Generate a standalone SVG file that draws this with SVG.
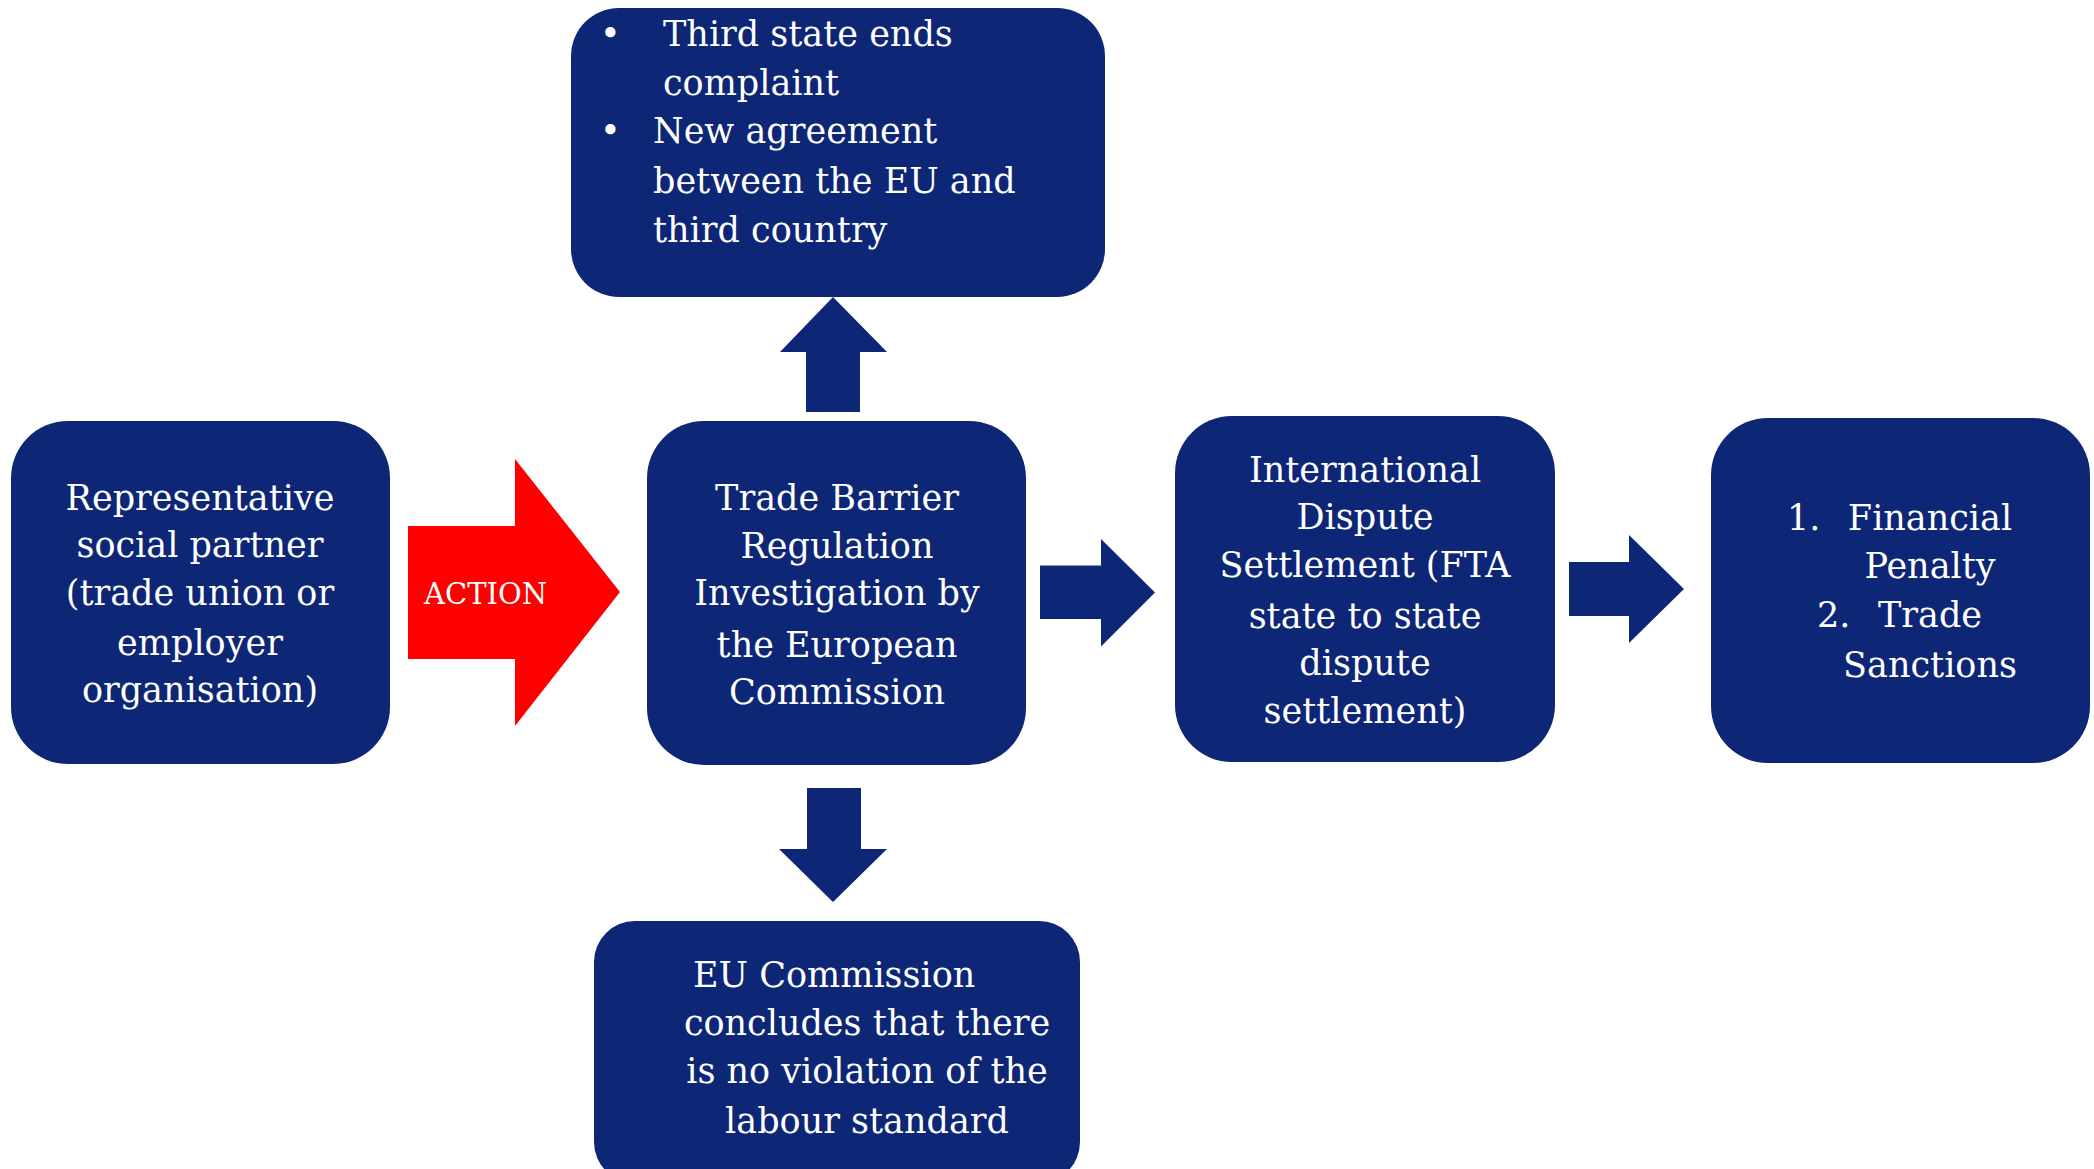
<svg xmlns="http://www.w3.org/2000/svg" width="2094" height="1169" viewBox="0 0 2094 1169">
<style>
.box{fill:#0E2676;}
.conn{fill:#0E2676;}
.t{font-family:"DejaVu Serif",serif;font-size:35px;fill:#FFFFFF;}
.c{text-anchor:middle;}
.act{font-family:"DejaVu Serif",serif;font-size:29px;fill:#FFFFFF;}
</style>
<rect width="2094" height="1169" fill="#FFFFFF"/>
<g id="connectors">
<path d="M408,526 H515 V459 L620,592 L515,726 V659 H408 Z" fill="#FF0000"/>
<text class="act" x="424" y="604">ACTION</text>
<path class="conn" d="M806,412 V352 H780 L833,297 L887,352 H860 V412 Z"/>
<path class="conn" d="M1040,565.5 H1101 V539 L1155,592.5 L1101,646.5 V619 H1040 Z"/>
<path class="conn" d="M1569,562 H1629 V535 L1684,589 L1629,643 V616 H1569 Z"/>
<path class="conn" d="M807,788 H861 V849 H887 L833,902 L779,849 H807 Z"/>
</g>
<g id="node-social-partner">
<rect class="box" x="11" y="421" width="379" height="343" rx="57"/>
<text class="t c" x="200" y="510">Representative</text>
<text class="t c" x="200" y="557">social partner</text>
<text class="t c" x="200" y="605">(trade union or</text>
<text class="t c" x="200" y="655">employer</text>
<text class="t c" x="200" y="702">organisation)</text>
</g>
<g id="node-outcome-top">
<rect class="box" x="571" y="8" width="534" height="289" rx="48"/>
<text class="t" x="600" y="46">•</text>
<text class="t" x="663" y="46">Third state ends</text>
<text class="t" x="663" y="95">complaint</text>
<text class="t" x="600" y="143">•</text>
<text class="t" x="653" y="143">New agreement</text>
<text class="t" x="653" y="193">between the EU and</text>
<text class="t" x="653" y="242">third country</text>
</g>
<g id="node-investigation">
<rect class="box" x="647" y="421" width="379" height="344" rx="57"/>
<text class="t c" x="837" y="510">Trade Barrier</text>
<text class="t c" x="837" y="558">Regulation</text>
<text class="t c" x="837" y="605">Investigation by</text>
<text class="t c" x="837" y="657">the European</text>
<text class="t c" x="837" y="704">Commission</text>
</g>
<g id="node-dispute">
<rect class="box" x="1175" y="416" width="380" height="346" rx="57"/>
<text class="t c" x="1365" y="482">International</text>
<text class="t c" x="1365" y="529">Dispute</text>
<text class="t c" x="1365" y="577">Settlement (FTA</text>
<text class="t c" x="1365" y="628">state to state</text>
<text class="t c" x="1365" y="675">dispute</text>
<text class="t c" x="1365" y="723">settlement)</text>
</g>
<g id="node-sanctions">
<rect class="box" x="1711" y="418" width="379" height="345" rx="57"/>
<text class="t" x="1787" y="530">1.</text>
<text class="t c" x="1930" y="530">Financial</text>
<text class="t c" x="1930" y="578">Penalty</text>
<text class="t" x="1817" y="627">2.</text>
<text class="t c" x="1930" y="627">Trade</text>
<text class="t c" x="1930" y="677">Sanctions</text>
</g>
<g id="node-no-violation">
<rect class="box" x="594" y="921" width="486" height="262" rx="41"/>
<text class="t" x="693" y="987">EU Commission</text>
<text class="t c" x="867" y="1035">concludes that there</text>
<text class="t c" x="867" y="1083">is no violation of the</text>
<text class="t c" x="867" y="1133">labour standard</text>
</g>
</svg>
